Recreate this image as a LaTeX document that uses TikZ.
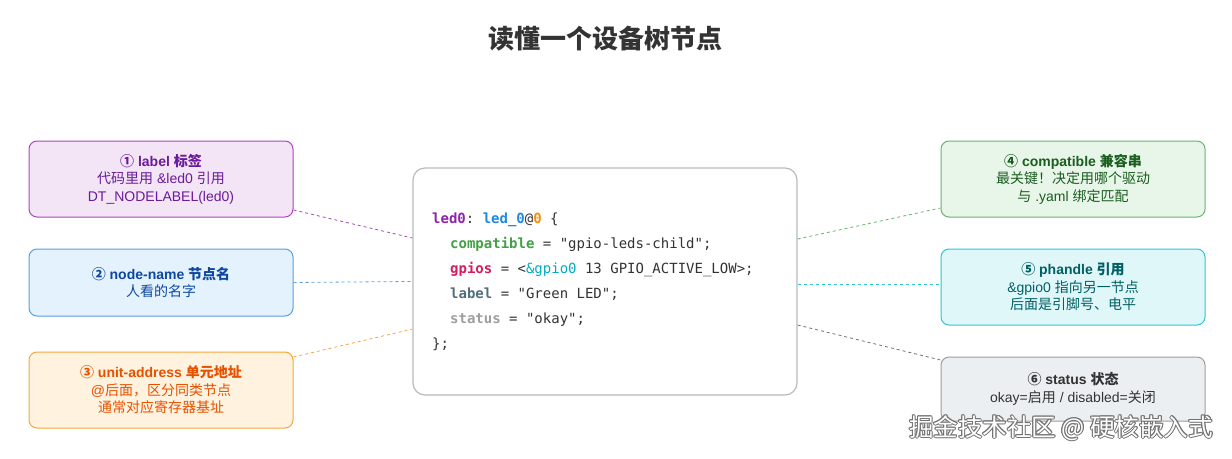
\documentclass[tikz,border=0pt]{standalone}
\usepackage{fontspec}
\setmainfont{Liberation Sans}
\setmonofont{DejaVu Sans Mono}
\newfontfamily\cjk{Noto Sans CJK SC}
\usetikzlibrary{calc}
\newcommand\zh[1]{{\cjk #1}}
\definecolor{pfill}{HTML}{F3E5F5}\definecolor{pdraw}{HTML}{AB47BC}\definecolor{ptext}{HTML}{6A1B9A}
\definecolor{bfill}{HTML}{E3F2FD}\definecolor{bdraw}{HTML}{5B9FE0}\definecolor{btext}{HTML}{0D47A1}
\definecolor{ofill}{HTML}{FFF3E0}\definecolor{odraw}{HTML}{F5A73B}\definecolor{otext}{HTML}{E65100}
\definecolor{gfill}{HTML}{E8F5E9}\definecolor{gdraw}{HTML}{6AB56E}\definecolor{gtext}{HTML}{1B5E20}
\definecolor{cfill}{HTML}{E0F7FA}\definecolor{cdraw}{HTML}{2FC4D6}\definecolor{ctext}{HTML}{006064}
\definecolor{sfill}{HTML}{ECEFF1}\definecolor{sdraw}{HTML}{9E9E9E}\definecolor{stext}{HTML}{333333}
\definecolor{kpur}{HTML}{8E24AA}\definecolor{kblu}{HTML}{1E88E5}\definecolor{kora}{HTML}{FB8C00}
\definecolor{kgrn}{HTML}{43A047}\definecolor{kred}{HTML}{D81B60}\definecolor{kcya}{HTML}{00ACC1}
\definecolor{ksla}{HTML}{546E7A}\definecolor{kgry}{HTML}{9E9E9E}\definecolor{ink}{HTML}{333333}
\tikzset{
  box/.style={rounded corners=8pt, line width=1pt, minimum width=264pt, minimum height=76pt,
    align=center, inner sep=0pt, font=\fontsize{14}{17.5}\selectfont},
  conn/.style={dashed, dash pattern=on 3pt off 3pt, line width=0.8pt},
  code/.style={anchor=base west, inner sep=0pt, text=ink, font=\ttfamily\fontsize{14}{16}\selectfont},
}
\begin{document}
\begin{tikzpicture}[x=1pt,y=-1pt]
\useasboundingbox (0,0) rectangle (1232,458);
\fill[white] (0,0) rectangle (1232,458);
\node[text=ink, font=\cjk\bfseries\fontsize{26}{28}\selectfont] (title) at (605,39) {读懂一个设备树节点};

% left boxes
\node[box, fill=pfill, draw=pdraw, text=ptext] (b1) at (161,179)
  {{\bfseries\zh{①} label \zh{标签}}\\\zh{代码里用} \&led0 \zh{引用}\\DT\_NODELABEL(led0)};
\node[box, fill=bfill, draw=bdraw, text=btext, minimum height=67pt] (b2) at (161,282.5)
  {{\bfseries\zh{②} node-name \zh{节点名}}\\\zh{人看的名字}};
\node[box, fill=ofill, draw=odraw, text=otext] (b3) at (161,390)
  {{\bfseries\zh{③} unit-address \zh{单元地址}}\\@\zh{后面，区分同类节点}\\\zh{通常对应寄存器基址}};

% right boxes
\node[box, fill=gfill, draw=gdraw, text=gtext] (b4) at (1073,179)
  {{\bfseries\zh{④} compatible \zh{兼容串}}\\\zh{最关键！决定用哪个驱动}\\\zh{与} .yaml \zh{绑定匹配}};
\node[box, fill=cfill, draw=cdraw, text=ctext] (b5) at (1073,287)
  {{\bfseries\zh{⑤} phandle \zh{引用}}\\\&gpio0 \zh{指向另一节点}\\\zh{后面是引脚号、电平}};
\node[box, fill=sfill, draw=sdraw, text=stext, minimum height=64pt] (b6) at (1073,389)
  {{\bfseries\zh{⑥} status \zh{状态}}\\okay=\zh{启用} / disabled=\zh{关闭}};

% centre code box
\node[rounded corners=12pt, line width=1.2pt, draw=black!27, fill=white,
  minimum width=384pt, minimum height=227pt, inner sep=0pt] (cb) at (605,281.5) {};
\node[code] (l1) at (432,223) {\textbf{\color{kpur}led0}: \textbf{\color{kblu}led\_0}@\textbf{\color{kora}0} \{};
\node[code] (l2) at (450,248) {\textbf{\color{kgrn}compatible} = "gpio-leds-child";};
\node[code] (l3) at (450,273) {\textbf{\color{kred}gpios} = <{\color{kcya}\&gpio0} 13 GPIO\_ACTIVE\_LOW>;};
\node[code] (l4) at (450,298) {\textbf{\color{ksla}label} = "Green LED";};
\node[code] (l5) at (450,323) {\textbf{\color{kgry}status} = "okay";};
\node[code] (l6) at (432,348) {\};};

% connectors
\draw[conn, draw=pdraw] ([yshift=-31pt]b1.east) -- ([yshift=43.5pt]cb.west);
\draw[conn, draw=bdraw] (b2.east) -- (cb.west);
\draw[conn, draw=odraw] ([yshift=33pt]b3.east) -- ([yshift=-47.5pt]cb.west);
\draw[conn, draw=gdraw] ([yshift=42.5pt]cb.east) -- ([yshift=-29pt]b4.west);
\draw[conn, draw=cdraw] ([yshift=-2.5pt]cb.east) -- ([yshift=3pt]b5.west);
\draw[conn, draw=black!55] ([yshift=-43.5pt]cb.east) -- ([yshift=29pt]b6.west);

% watermark
\foreach \dx/\dy [count=\i] in {0.9/0, -0.9/0, 0/0.9, 0/-0.9, 0.7/0.7, -0.7/0.7, 0.7/-0.7, -0.7/-0.7}{
  \node[text=black!55, font=\cjk\fontsize{24.5}{28}\selectfont] (wms\i) at (1061+\dx,428+\dy) {掘金技术社区 @ 硬核嵌入式};
}
\node[text=white, font=\cjk\fontsize{24.5}{28}\selectfont] (wm) at (1061,428) {掘金技术社区 @ 硬核嵌入式};
\end{tikzpicture}
\end{document}
